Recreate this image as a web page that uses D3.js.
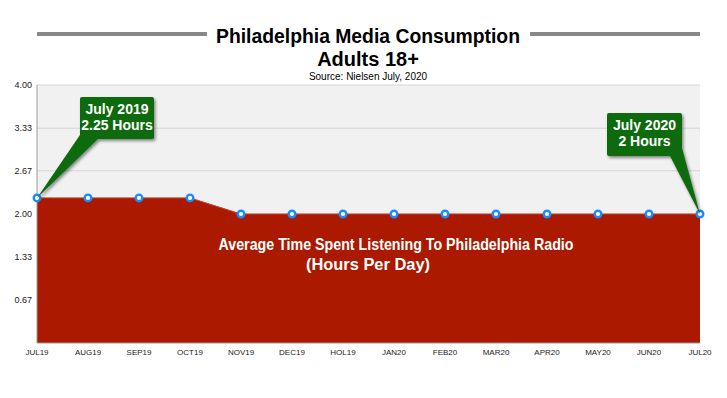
<!DOCTYPE html>
<html>
<head>
<meta charset="utf-8">
<script src="https://cdn.jsdelivr.net/npm/d3@7"></script>
<style>
  html, body { margin: 0; padding: 0; background: #fff; }
  svg { display: block; font-family: "Liberation Sans", Arial, sans-serif; }
</style>
</head>
<body>
<script>
// Philadelphia media consumption - area chart

const months = ["JUL19", "AUG19", "SEP19", "OCT19", "NOV19", "DEC19", "HOL19",
                "JAN20", "FEB20", "MAR20", "APR20", "MAY20", "JUN20", "JUL20"];
const hours = [2.25, 2.25, 2.25, 2.25, 2, 2, 2, 2, 2, 2, 2, 2, 2, 2];
const yTicks = [0.67, 1.33, 2.00, 2.67, 3.33, 4.00];

const width = 727, height = 398;
const plotLeft = 37, plotRight = 700, plotTop = 85, plotBottom = 343;

const svg = d3.select("body").append("svg")
    .attr("width", width)
    .attr("height", height);

const defs = svg.append("defs");
const shadow = defs.append("filter").attr("id", "shadow")
    .attr("x", "-20%").attr("y", "-20%").attr("width", "150%").attr("height", "160%");
shadow.append("feDropShadow")
    .attr("dx", 1.5).attr("dy", 2).attr("stdDeviation", 1.5)
    .attr("flood-color", "#000").attr("flood-opacity", 0.45);

const x = d3.scalePoint().domain(months).range([plotLeft, plotRight]);
const y = d3.scaleLinear().domain([0, 4]).range([plotBottom, plotTop]);

// title
svg.append("rect").attr("x", plotLeft).attr("y", 32).attr("width", 170).attr("height", 4).attr("fill", "#888");
svg.append("rect").attr("x", 530).attr("y", 32).attr("width", plotRight - 530).attr("height", 4).attr("fill", "#888");

svg.append("text").attr("x", 368).attr("y", 43)
    .attr("text-anchor", "middle").attr("font-size", 20).attr("font-weight", "bold")
    .attr("textLength", 304).attr("lengthAdjust", "spacingAndGlyphs")
    .text("Philadelphia Media Consumption");
svg.append("text").attr("x", 368).attr("y", 66)
    .attr("text-anchor", "middle").attr("font-size", 20).attr("font-weight", "bold")
    .text("Adults 18+");
svg.append("text").attr("x", 368).attr("y", 80)
    .attr("text-anchor", "middle").attr("font-size", 10)
    .text("Source: Nielsen July, 2020");

// plot background + grid
svg.append("rect").attr("x", plotLeft).attr("y", plotTop)
    .attr("width", plotRight - plotLeft).attr("height", plotBottom - plotTop).attr("fill", "#f1f1f1");

svg.append("g").selectAll("line").data(yTicks).join("line")
    .attr("x1", plotLeft).attr("x2", plotRight)
    .attr("y1", d => y(d)).attr("y2", d => y(d))
    .attr("stroke", "#d4d4d4").attr("stroke-width", 1);

// area
const area = d3.area()
    .x((d, i) => x(months[i]))
    .y0(y(0))
    .y1(d => y(d));

svg.append("path").datum(hours)
    .attr("d", area)
    .attr("fill", "#aa1900");

svg.append("path").datum(hours)
    .attr("d", d3.line().x((d, i) => x(months[i])).y(d => y(d)))
    .attr("fill", "none").attr("stroke", "#b8442f").attr("stroke-width", 1);

// axes lines
svg.append("line").attr("x1", plotLeft).attr("x2", plotLeft).attr("y1", plotTop).attr("y2", plotBottom)
    .attr("stroke", "#999");
svg.append("line").attr("x1", plotLeft).attr("x2", plotRight).attr("y1", plotBottom).attr("y2", plotBottom)
    .attr("stroke", "#999");

// y labels
svg.append("g").selectAll("text").data(yTicks).join("text")
    .attr("x", 32).attr("y", d => y(d) + 3)
    .attr("text-anchor", "end").attr("font-size", 9).attr("fill", "#222")
    .text(d => d.toFixed(2));

// x labels
svg.append("g").selectAll("text").data(months).join("text")
    .attr("x", d => x(d)).attr("y", 355)
    .attr("text-anchor", "middle").attr("font-size", 8).attr("fill", "#222")
    .text(d => d);

// area caption
svg.append("text").attr("x", 396).attr("y", 250)
    .attr("text-anchor", "middle").attr("font-size", 16).attr("font-weight", "bold")
    .attr("fill", "#fff").attr("textLength", 355).attr("lengthAdjust", "spacingAndGlyphs")
    .text("Average Time Spent Listening To Philadelphia Radio");
svg.append("text").attr("x", 368).attr("y", 270)
    .attr("text-anchor", "middle").attr("font-size", 16).attr("font-weight", "bold")
    .attr("fill", "#fff").attr("textLength", 124).attr("lengthAdjust", "spacingAndGlyphs")
    .text("(Hours Per Day)");

// callouts
const green = "#0c6a0c";
function callout(bx, by, bw, bh, tail, lines, tipIndex) {
    const g = svg.append("g").attr("filter", "url(#shadow)");
    const tx = x(months[tipIndex]), ty = y(hours[tipIndex]);
    g.append("path")
        .attr("d", `M${tail[0][0]},${tail[0][1]}L${tail[1][0]},${tail[1][1]}L${tx},${ty}Z`)
        .attr("fill", green);
    g.append("rect").attr("x", bx).attr("y", by).attr("width", bw).attr("height", bh)
        .attr("rx", 2).attr("fill", green);
    lines.forEach((t, i) => {
        svg.append("text").attr("x", bx + bw / 2).attr("y", by + 17 + i * 16)
            .attr("text-anchor", "middle").attr("font-size", 14).attr("font-weight", "bold")
            .attr("fill", "#fff").text(t);
    });
}

// dots
svg.append("g").selectAll("circle").data(hours).join("circle")
    .attr("cx", (d, i) => x(months[i])).attr("cy", d => y(d))
    .attr("r", 3.3).attr("fill", "#fff")
    .attr("stroke", "#1a8cff").attr("stroke-width", 2.4);

callout(80, 97, 74, 42, [[82, 132], [98, 139]], ["July 2019", "2.25 Hours"], 0);
callout(607, 113, 75, 43, [[670, 156], [682, 148]], ["July 2020", "2 Hours"], months.length - 1);
</script>
</body>
</html>
